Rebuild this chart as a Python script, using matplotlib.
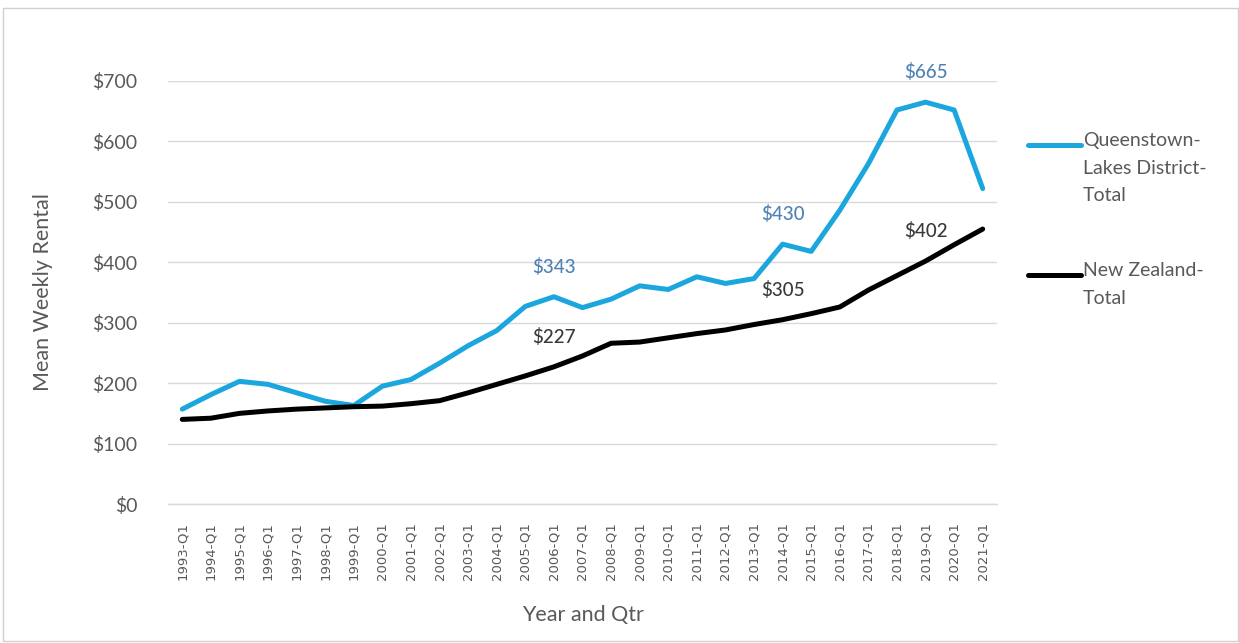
import matplotlib
matplotlib.use("Agg")
import matplotlib.pyplot as plt
from matplotlib.lines import Line2D
from matplotlib.patches import Rectangle
from matplotlib.ticker import FuncFormatter

plt.rcParams['font.family'] = ['Lato', 'DejaVu Sans']

years = list(range(1993, 2022))
periods = [f"{y}-Q1" for y in years]

queenstown = [157, 181, 203, 198, 184, 170, 163, 195, 206, 233, 262, 287, 327, 343,
              325, 339, 361, 355, 376, 365, 373, 430, 418, 486, 563, 652, 665, 652, 522]
new_zealand = [140, 142, 150, 154, 157, 159, 161, 162, 166, 171, 184, 198, 212, 227,
               245, 266, 268, 275, 282, 288, 297, 305, 315, 326, 354, 378, 402, 429, 455]

qld_labelled = ["2006-Q1", "2014-Q1", "2019-Q1"]
nz_labelled = ["2006-Q1", "2014-Q1", "2019-Q1"]

qld_name = "Queenstown-\nLakes District-\nTotal"
nz_name = "New Zealand-\nTotal"

BLUE = "#1ba6de"
BLUE_TEXT = "#4f81b4"
DARK_TEXT = "#3a3a3a"
GREY_TEXT = "#595959"
GRID = "#d9d9d9"

W, H = 1239, 643
fig = plt.figure(figsize=(W / 100, H / 100), dpi=100)
fig.patch.set_facecolor("white")

# outer chart frame
fig.add_artist(Rectangle((3 / W, 2 / H), (W - 4) / W, (H - 10) / H,
                         transform=fig.transFigure, fill=False,
                         edgecolor="#d0d0d0", linewidth=1.0))

ax = fig.add_axes([168 / W, (H - 504) / H, 829 / W, 423 / H])
x = list(range(len(periods)))

ax.plot(x, queenstown, color=BLUE, linewidth=3.6, solid_capstyle="round",
        solid_joinstyle="round", zorder=3)
ax.plot(x, new_zealand, color="black", linewidth=3.6, solid_capstyle="round",
        solid_joinstyle="round", zorder=3)

for p in qld_labelled:
    i = periods.index(p)
    ax.annotate(f"${queenstown[i]}", (i, queenstown[i]), xytext=(0, 30),
                textcoords="offset pixels", ha="center", va="center",
                fontsize=13.5, color=BLUE_TEXT, fontweight="medium")
for p in nz_labelled:
    i = periods.index(p)
    ax.annotate(f"${new_zealand[i]}", (i, new_zealand[i]), xytext=(0, 30),
                textcoords="offset pixels", ha="center", va="center",
                fontsize=13.5, color=DARK_TEXT, fontweight="medium")

ax.set_xlim(-0.5, len(periods) - 0.5)
ax.set_ylim(0, 700)
ax.set_yticks(range(0, 701, 100))
ax.yaxis.set_major_formatter(FuncFormatter(lambda v, _: f"${int(v)}"))
ax.set_xticks(x)
ax.set_xticklabels(periods, rotation=90, fontsize=9.5, color=GREY_TEXT,
                   family=["DejaVu Sans"])
ax.tick_params(axis="y", length=0, pad=22, labelsize=14, labelcolor=GREY_TEXT)
ax.tick_params(axis="x", length=0, pad=13)
ax.grid(axis="y", color=GRID, linewidth=1.0, zorder=0)
for side in ("top", "right", "left"):
    ax.spines[side].set_visible(False)
ax.spines["bottom"].set_color(GRID)
ax.spines["bottom"].set_linewidth(1.0)
ax.set_axisbelow(True)

ax.set_ylabel("Mean Weekly Rental", fontsize=15.5, color=GREY_TEXT)
ax.yaxis.set_label_coords(-115 / 829, 0.5)
ax.set_xlabel("Year and Qtr", fontsize=15.5, color=GREY_TEXT)
ax.xaxis.set_label_coords(0.5, -(605 - 504) / 423)

# legend drawn beside the plot
def legend_entry(y_px, color, label):
    fig.add_artist(Line2D([1028 / W, 1081 / W], [1 - y_px / H, 1 - y_px / H],
                          transform=fig.transFigure, color=color, linewidth=3.6,
                          solid_capstyle="round"))
    fig.text(1083 / W, 1 - (y_px - 13) / H, label, ha="left", va="top",
             fontsize=14, color=GREY_TEXT, linespacing=1.75)

legend_entry(145, BLUE, qld_name)
legend_entry(275, "black", nz_name)

fig.savefig("out.png", dpi=100, facecolor="white")
